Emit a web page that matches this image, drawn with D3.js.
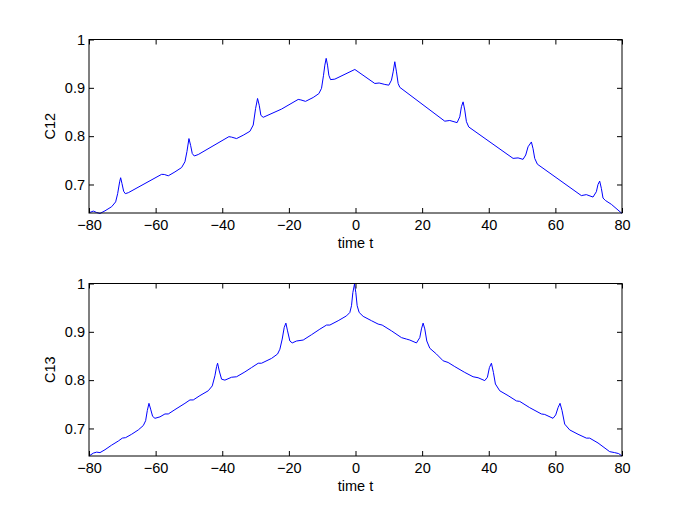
<!DOCTYPE html>
<html>
<head>
<meta charset="utf-8">
<script src="https://cdn.jsdelivr.net/npm/d3@7"></script>
<style>
  body { margin: 0; background: #fff; }
  svg text { font-family: "Liberation Sans", Arial, sans-serif; }
</style>
</head>
<body>
<svg id="chart"></svg>
<script>
// values
let tC12 = [-80, -78.7, -77.7, -76.7, -75.2, -73.2, -72, -71.4, -70.8, -70.5, -70.1, -69.6, -69.1, -68.2,
  -58.2, -57.4, -56.2, -54.2, -52.2, -51.2, -50.6, -50.0, -49.5, -49.0, -48.4, -47.2,
  -38.0, -37.2, -35.7, -33.7, -31.7, -30.7, -30.0, -29.4, -28.9, -28.4, -27.7,
  -22.2, -17.2, -16.4, -15.0, -12.7, -11.0, -10.2, -9.6, -9.2, -8.8, -8.4, -8.0, -7.5, -6.2,
  -0.2, 5.8, 7.1, 8.8, 10.0, 10.8, 11.3, 11.8, 12.3, 12.8, 13.3,
  26.8, 28.3, 30.5, 31.3, 31.8, 32.3, 32.8, 33.3, 34.0,
  47.3, 48.8, 50.3, 51.1, 51.8, 52.8, 53.3, 53.8, 54.6,
  67.8, 69.3, 71.3, 72.3, 72.8, 73.3, 73.8, 74.3, 75.0, 76.8, 80];
let C12 = [0.6414, 0.645, 0.642, 0.640, 0.6455, 0.654, 0.664, 0.681, 0.7055, 0.714, 0.702, 0.686, 0.681, 0.683,
  0.721, 0.7207, 0.718, 0.726, 0.735, 0.747, 0.768, 0.795, 0.781, 0.764, 0.759, 0.762,
  0.799, 0.798, 0.795, 0.802, 0.810, 0.823, 0.857, 0.878, 0.864, 0.843, 0.839,
  0.856, 0.876, 0.875, 0.872, 0.880, 0.888, 0.899, 0.926, 0.947, 0.961, 0.947, 0.926, 0.917, 0.918,
  0.938, 0.909, 0.910, 0.907, 0.9055, 0.916, 0.933, 0.954, 0.933, 0.909, 0.901,
  0.831, 0.8324, 0.828, 0.840, 0.861, 0.871, 0.854, 0.830, 0.819,
  0.754, 0.755, 0.752, 0.761, 0.778, 0.788, 0.774, 0.754, 0.742,
  0.677, 0.679, 0.674, 0.685, 0.700, 0.707, 0.692, 0.672, 0.667, 0.659, 0.640];

let tC13 = [-80, -78.7, -77.7, -76.7, -75.2, -73.2, -71.2, -70, -69, -67.2, -65.2, -63.7, -63.0, -62.5,
  -62.0, -61.5, -60.9, -60.2, -58.7, -57.2, -56.2, -54.2, -51.2, -49.7, -48.7, -46.7, -44.2, -43.0,
  -42.2, -41.7, -41.4, -40.9, -40.2, -39.2, -37.2, -35.7, -33.2, -31.2, -29.2, -28.2, -25.2, -23.4,
  -22.7, -22.0, -21.4, -20.9, -20.4, -19.7, -19.0, -17.7, -15.7, -13.2, -10.7, -8.7, -7.7, -5.2,
  -2.7, -1.7, -1.2, -0.8, -0.3, 0.1, 0.5, 1.1, 2.3, 4.8, 6.8, 8.0, 10.8, 13.8, 15.3, 16.3, 18.3,
  19.3, 19.8, 20.3, 20.8, 21.4, 22.3, 24.3, 26.3, 27.8, 29.8, 32.8, 35.3, 36.8, 38.8, 39.6, 40.2,
  40.8, 41.4, 42.0, 43.3, 45.8, 48.3, 49.3, 52.3, 55.8, 56.8, 59.3, 60.1, 60.8, 61.4, 62.0, 62.8,
  64.3, 66.8, 69.3, 70.3, 72.8, 76.3, 77.8, 79.0, 80];
let C13 = [0.643, 0.649, 0.651, 0.650, 0.656, 0.6655, 0.674, 0.680, 0.681, 0.688, 0.697, 0.706, 0.716, 0.737,
  0.752, 0.740, 0.725, 0.721, 0.724, 0.730, 0.730, 0.739, 0.752, 0.759, 0.759, 0.768, 0.778, 0.788,
  0.809, 0.828, 0.835, 0.819, 0.802, 0.800, 0.806, 0.807, 0.817, 0.826, 0.835, 0.835, 0.845, 0.854,
  0.864, 0.885, 0.909, 0.918, 0.902, 0.881, 0.877, 0.881, 0.883, 0.894, 0.9055, 0.914, 0.914, 0.923,
  0.933, 0.940, 0.954, 0.981, 0.999, 0.981, 0.954, 0.940, 0.932, 0.923, 0.916, 0.914, 0.902, 0.888, 0.885, 0.883, 0.877,
  0.888, 0.906, 0.918, 0.906, 0.881, 0.866, 0.854, 0.840, 0.8366, 0.828, 0.816, 0.807, 0.805, 0.799, 0.806, 0.826,
  0.835, 0.816, 0.792, 0.778, 0.768, 0.757, 0.756, 0.743, 0.730, 0.729, 0.721, 0.728, 0.743, 0.752, 0.737, 0.709,
  0.697, 0.688, 0.680, 0.680, 0.670, 0.652, 0.650, 0.648, 0.643];

let xTicks = [-80, -60, -40, -20, 0, 20, 40, 60, 80];
let yTicks = [0.7, 0.8, 0.9, 1];
let panelLabels = ["C12", "C13"];
let xLabel = "time t";

let width = 685;
let height = 515;

let svg = d3.select("#chart").attr("width", width).attr("height", height);

let panels = [
  { t: tC12, v: C12, label: panelLabels[0], top: 39.5, bottom: 213, ymin: 0.641 },
  { t: tC13, v: C13, label: panelLabels[1], top: 283.5, bottom: 456, ymin: 0.643 },
];

let left = 89;
let right = 622;

panels.forEach((p, i) => {
  let x = d3.scaleLinear().domain([-80, 80]).range([left, right]);
  let y = d3.scaleLinear().domain([p.ymin, 1]).range([p.bottom, p.top]);

  let g = svg.append("g");

  g.append("clipPath")
    .attr("id", "clip" + i)
    .append("rect")
    .attr("x", left)
    .attr("y", p.top - 1)
    .attr("width", right - left)
    .attr("height", p.bottom - p.top + 2);

  let line = d3
    .line()
    .x((d) => x(d[0]))
    .y((d) => y(d[1]));

  g.append("path")
    .datum(d3.zip(p.t, p.v))
    .attr("d", line)
    .attr("clip-path", `url(#clip${i})`)
    .style("fill", "none")
    .style("stroke", "#0000ff")
    .style("stroke-width", 1)
    .style("stroke-linejoin", "round");

  // axes with inward ticks, mirrored on top and right like the original
  let fmt = d3.format("");
  let axisStyle = (sel) => {
    sel.select(".domain").remove();
    sel.selectAll(".tick line").style("stroke", "#000");
    sel.selectAll("text").style("font-size", "14.5px").style("fill", "#000");
  };

  g.append("g")
    .attr("transform", `translate(0,${p.bottom})`)
    .call(d3.axisBottom(x).tickValues(xTicks).tickSize(-5).tickPadding(7))
    .call(axisStyle);
  g.append("g")
    .attr("transform", `translate(0,${p.top})`)
    .call(d3.axisTop(x).tickValues(xTicks).tickSize(-5).tickFormat(""))
    .call(axisStyle);
  g.append("g")
    .attr("transform", `translate(${left},0)`)
    .call(d3.axisLeft(y).tickValues(yTicks).tickSize(-5).tickPadding(4).tickFormat(fmt))
    .call(axisStyle);
  g.append("g")
    .attr("transform", `translate(${right},0)`)
    .call(d3.axisRight(y).tickValues(yTicks).tickSize(-5).tickFormat(""))
    .call(axisStyle);

  g.append("rect")
    .attr("x", left)
    .attr("y", p.top)
    .attr("width", right - left)
    .attr("height", p.bottom - p.top)
    .style("fill", "none")
    .style("stroke", "#000")
    .style("stroke-width", 1);

  g.append("text")
    .attr("x", (left + right) / 2)
    .attr("y", p.bottom + 35)
    .attr("text-anchor", "middle")
    .style("font-size", "14.5px")
    .text(xLabel);

  g.append("text")
    .attr("transform", `translate(55,${(p.top + p.bottom) / 2}) rotate(-90)`)
    .attr("text-anchor", "middle")
    .style("font-size", "14.5px")
    .text(p.label);
});
</script>
</body>
</html>
